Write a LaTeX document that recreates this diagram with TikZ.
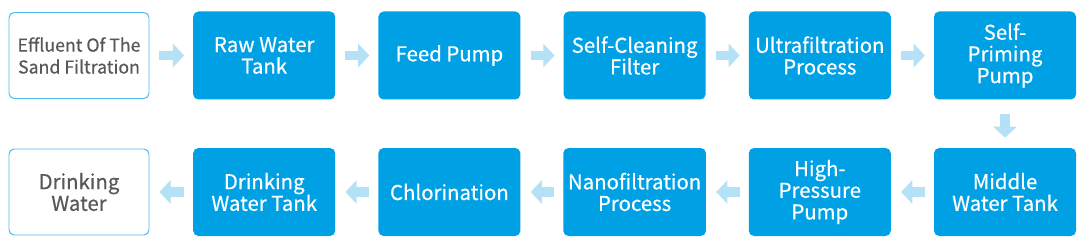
\documentclass[tikz,border=0pt]{standalone}
\usepackage{fontspec}
\setmainfont{Noto Sans CJK SC}[FakeBold=0.4]
\usepackage{xcolor}
\usepackage{tikz}
\usetikzlibrary{positioning,arrows.meta}

\definecolor{stepblue}{RGB}{0,160,228}
\definecolor{flowblue}{RGB}{180,225,246}
\definecolor{framblue}{RGB}{80,185,236}
\definecolor{textgray}{RGB}{89,87,87}

\begin{document}
\begin{tikzpicture}[
    stepbox/.style={
        fill=stepblue,
        draw=none,
        rounded corners=1.3mm,
        minimum width=3.55cm,
        minimum height=2.2cm,
        align=center,
        text=white,
        font=\fontsize{14.5}{15.4}\selectfont
    },
    endbox/.style={
        fill=white,
        draw=framblue,
        line width=0.7pt,
        rounded corners=1.3mm,
        minimum width=3.5cm,
        minimum height=2.15cm,
        align=center,
        text=textgray,
        font=\fontsize{14.5}{15.4}\selectfont
    },
    flow/.style={
        draw=flowblue,
        line width=0.24cm,
        -{Triangle[length=0.28cm,width=0.58cm]}
    }
]
\useasboundingbox (0,0) rectangle (27.225,6.175);

% top row
\node[endbox, font=\fontsize{12.6}{15.6}\selectfont] (effluent) at (1.975,4.7875)
{Effluent Of The\\Sand Filtration};

\node[stepbox] (rawtank) at (6.605,4.7875) {Raw Water\\Tank};
\node[stepbox] (feedpump) at (11.235,4.7875) {Feed Pump};
\node[stepbox] (filter) at (15.865,4.7875) {Self-Cleaning\\Filter};
\node[stepbox] (uf) at (20.495,4.7875) {Ultrafiltration\\Process};
\node[stepbox] (priming) at (25.125,4.7875) {Self-\\Priming\\Pump};

% bottom row
\node[stepbox] (midtank) at (25.125,1.375) {Middle\\Water Tank};
\node[stepbox] (hppump) at (20.495,1.375) {High-\\Pressure\\Pump};
\node[stepbox] (nf) at (15.865,1.375) {Nanofiltration\\Process};
\node[stepbox] (chlor) at (11.235,1.375) {Chlorination};
\node[stepbox] (drinktank) at (6.605,1.375) {Drinking\\Water Tank};
\node[endbox] (water) at (1.975,1.375) {Drinking\\Water};

% arrows, top row
\draw[flow, shorten <=0.25cm, shorten >=0.22cm] (effluent.east) -- (rawtank.west);
\draw[flow, shorten <=0.25cm, shorten >=0.22cm] (rawtank.east) -- (feedpump.west);
\draw[flow, shorten <=0.25cm, shorten >=0.22cm] (feedpump.east) -- (filter.west);
\draw[flow, shorten <=0.25cm, shorten >=0.22cm] (filter.east) -- (uf.west);
\draw[flow, shorten <=0.25cm, shorten >=0.22cm] (uf.east) -- (priming.west);

% down
\draw[flow, shorten <=0.35cm, shorten >=0.25cm] (priming.south) -- (midtank.north);

% arrows, bottom row
\draw[flow, shorten <=0.22cm, shorten >=0.25cm] (midtank.west) -- (hppump.east);
\draw[flow, shorten <=0.22cm, shorten >=0.25cm] (hppump.west) -- (nf.east);
\draw[flow, shorten <=0.22cm, shorten >=0.25cm] (nf.west) -- (chlor.east);
\draw[flow, shorten <=0.22cm, shorten >=0.25cm] (chlor.west) -- (drinktank.east);
\draw[flow, shorten <=0.22cm, shorten >=0.25cm] (drinktank.west) -- (water.east);

\end{tikzpicture}
\end{document}
